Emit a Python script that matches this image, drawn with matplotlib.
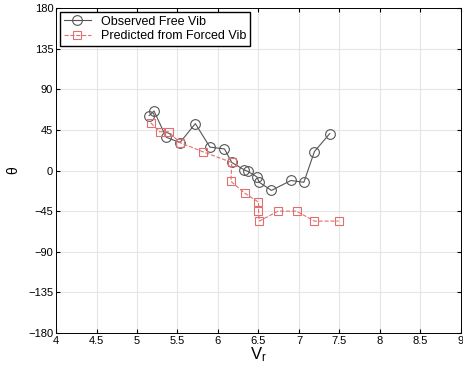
import numpy as np
import matplotlib.pyplot as plt

plt.rcParams['font.family'] = ['Liberation Sans', 'DejaVu Sans']
plt.rcParams['mathtext.default'] = 'regular'

# observed free vibration
obs_vr = [5.15, 5.21, 5.36, 5.53, 5.72, 5.90, 6.08, 6.17, 6.32, 6.37, 6.48, 6.51, 6.66, 6.90, 7.06, 7.19, 7.38]
obs_theta = [61, 66, 37, 31, 52, 26, 24, 9, 1, -1, -7, -13, -22, -11, -13, 21, 41]

# predicted from forced vibration
pred_vr = [5.17, 5.28, 5.39, 5.53, 5.81, 6.17, 6.16, 6.33, 6.50, 6.50, 6.51, 6.74, 6.97, 7.19, 7.49]
pred_theta = [53, 43, 43, 31, 21, 9, -12, -25, -35, -45, -56, -45, -45, -56, -56]

xticks = np.arange(4, 9.01, 0.5)
yticks = np.arange(-180, 181, 45)

fig = plt.figure(figsize=(4.64, 3.70), dpi=100)
ax = fig.add_axes([0.1207, 0.10, 0.8728, 0.878])

ax.plot(obs_vr, obs_theta, '-o', color='#555555', lw=0.8, ms=7,
        mfc='none', mec='#555555', mew=0.8, label='Observed Free Vib')
ax.plot(pred_vr, pred_theta, '--s', color='#e07070', lw=0.8, ms=6,
        mfc='none', mec='#e07070', mew=0.8, label='Predicted from Forced Vib')

ax.set_xlim(4, 9)
ax.set_ylim(-180, 180)
ax.set_xticks(xticks)
ax.set_xticklabels(['4', '4.5', '5', '5.5', '6', '6.5', '7', '7.5', '8', '8.5', '9'])
ax.set_yticks(yticks)
ax.grid(True, color='#e6e6e6', lw=0.8)
ax.tick_params(direction='in', top=True, right=True, labelsize=8, length=3, pad=2)
ax.set_xlabel('V$_r$', fontsize=12, labelpad=0)
ax.set_ylabel('θ', fontsize=10, rotation=90, labelpad=6)

ax.legend(loc='upper left', fontsize=9, frameon=True, fancybox=False,
          edgecolor='black', framealpha=1, borderaxespad=0.3,
          handlelength=2.2, borderpad=0.3, labelspacing=0.2)
for s in ax.spines.values():
    s.set_linewidth(0.7)

fig.savefig('out.png', dpi=100)
